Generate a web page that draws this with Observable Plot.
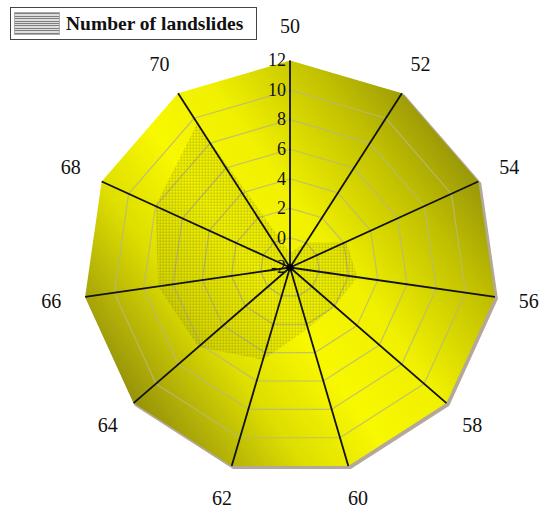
<!DOCTYPE html>
<html>
<head>
<meta charset="utf-8">
<script src="https://cdn.jsdelivr.net/npm/d3@7"></script>
<script src="https://cdn.jsdelivr.net/npm/@observablehq/plot@0.6"></script>
<style>
  body { margin: 0; background: #fff; }
  #wrap { position: relative; width: 550px; height: 517px; overflow: hidden; }
  #legend {
    position: absolute; left: 10px; top: 7px; width: 247px; height: 33px;
    box-sizing: border-box; border: 1px solid #444; background: #fff;
    display: flex; align-items: center;
    font-family: "Liberation Serif", "Times New Roman", serif; font-weight: bold; font-size: 19.5px; color: #111;
  }
  #legend .sw {
    width: 46px; height: 23px; margin: 0 6px 0 3px;
    background: repeating-linear-gradient(180deg, #7e7e7e 0 1px, #dedede 1px 2.5px);
    border: 1px solid #aaa; box-sizing: border-box;
  }
</style>
</head>
<body>
<div id="wrap">
  <div id="chart"></div>
  <div id="legend"><span class="sw"></span><span id="legendText"></span></div>
</div>
<script>
// ---- data ----
const categories = ["50", "52", "54", "56", "58", "60", "62", "64", "66", "68", "70"];
const landslides = [-1, 0, 2.2, 2.6, 2, 2.3, 4.5, 6.2, 7, 8, 9.6];
const radialTicks = [-2, 0, 2, 4, 6, 8, 10, 12];
const seriesName = "Number of landslides";
const rMin = -2, rMax = 12;

// ---- polar helpers (derived from the data) ----
const n = categories.length;
const ang = i => (i * 2 * Math.PI) / n;
const pol = (i, v) => ({x: (v - rMin) * Math.sin(ang(i)), y: (v - rMin) * Math.cos(ang(i))});
const ring = v => [...categories, categories[0]].map((c, k) => ({...pol(k % n, v), v}));

const outer = ring(rMax);
const grid = radialTicks.filter(v => v > rMin && v < rMax).flatMap(ring);
const series = [...landslides, landslides[0]].map((v, k) => pol(k % n, v));
const spokes = categories.map((c, i) => {
  const a = pol(i, rMin), b = pol(i, rMax);
  return {x1: a.x, y1: a.y, x2: b.x, y2: b.y};
});
const labels = categories.map((c, i) => ({...pol(i, rMax + (rMax - rMin) * 0.165), c}));
const ticks = radialTicks.map(v => ({...pol(0, v), t: String(v)}));
const center = [pol(0, rMin)];

// ---- layout ----
const W = 550, H = 517, cx = 289.5, cy = 267;
const k = 207 / (rMax - rMin);
const serif = "'Liberation Serif', 'Times New Roman', serif";

const plot = Plot.plot({
  width: W, height: H, margin: 0,
  x: {domain: [-cx / k, (W - cx) / k], range: [0, W], axis: null},
  y: {domain: [-(H - cy) / k, cy / k], range: [H, 0], axis: null},
  style: {background: "transparent", fontFamily: serif, color: "#111"},
  marks: [
    Plot.line(outer, {x: "x", y: "y", fill: "#b3a899", stroke: "#b3a899", strokeWidth: 2, dx: 2, dy: 2}),
    Plot.line(outer, {x: "x", y: "y", fill: "url(#yellowGrad)", stroke: "none"}),
    Plot.line(grid, {x: "x", y: "y", z: "v", stroke: "#b8b878", strokeWidth: 1.2, strokeOpacity: 0.85}),
    Plot.line(series, {x: "x", y: "y", fill: "url(#dots)", stroke: "none"}),
    Plot.link(spokes, {x1: "x1", y1: "y1", x2: "x2", y2: "y2", stroke: "#111", strokeWidth: 1.8}),
    Plot.dot(center, {x: "x", y: "y", r: 3.2, fill: "#000"}),
    Plot.text(ticks, {x: "x", y: "y", text: "t", textAnchor: "end", dx: -4, fontSize: 18, fill: "#111"}),
    Plot.text(labels, {x: "x", y: "y", text: "c", fontSize: 20, fill: "#111"})
  ]
});

// gradient + dot pattern definitions
const svg = d3.select(plot);
const defs = svg.insert("defs", ":first-child");
const grad = defs.append("linearGradient").attr("id", "yellowGrad")
  .attr("x1", "0.95").attr("y1", "0.25").attr("x2", "0.08").attr("y2", "0.88");
[[0, "#94920a"], [0.16, "#c0bf00"], [0.38, "#f0f000"], [0.55, "#f8f800"], [0.72, "#dede00"], [0.88, "#acaa08"], [1, "#868408"]]
  .forEach(([o, c]) => grad.append("stop").attr("offset", o).attr("stop-color", c));
const pat = defs.append("pattern").attr("id", "dots").attr("width", 3).attr("height", 3)
  .attr("patternUnits", "userSpaceOnUse");
pat.append("rect").attr("width", 1.6).attr("height", 1.6).attr("fill", "#3e3e10").attr("fill-opacity", 0.42);

document.getElementById("chart").appendChild(plot);
document.getElementById("legendText").textContent = seriesName;
</script>
</body>
</html>
